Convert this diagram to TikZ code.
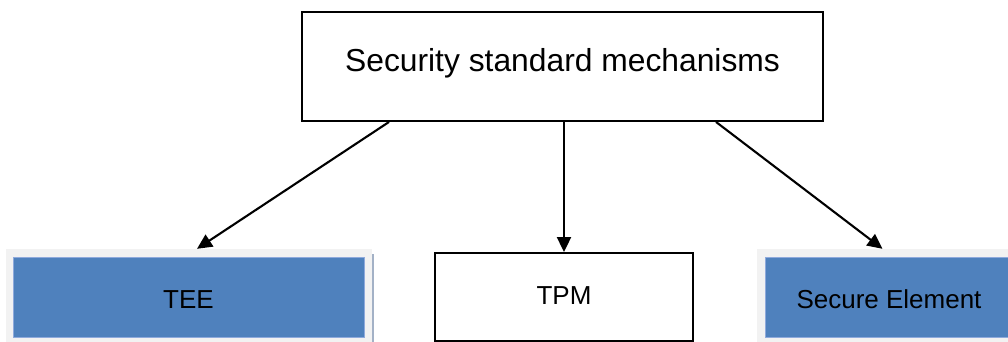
\documentclass[tikz,border=0pt]{standalone}
\usepackage{fontspec}
\setmainfont{Liberation Sans}
\usetikzlibrary{arrows.meta}
\definecolor{boxblue}{HTML}{4F81BD}
\definecolor{edgeblue}{HTML}{8FAADC}
\definecolor{framegrey}{HTML}{F2F2F2}
\definecolor{shadowline}{HTML}{A3B1C6}
\tikzset{
  plainbox/.style={draw=black, line width=1.9pt, fill=white, inner sep=0pt},
  bluebox/.style={draw=edgeblue, line width=0.6pt, fill=boxblue, inner sep=0pt},
  greyframe/.style={fill=framegrey, draw=none, inner sep=0pt},
  link/.style={draw=black, line width=2.1pt, -{Triangle[length=15pt,width=14pt]}},
  bigtext/.style={font=\fontsize{31.8}{38}\selectfont},
  smalltext/.style={font=\fontsize{26}{31}\selectfont},
}
\begin{document}
\begin{tikzpicture}[x=1pt,y=-1pt]
\useasboundingbox (0,0) rectangle (1008,342);

% top box
\node[plainbox, bigtext, minimum width=521pt, minimum height=109pt,
      text height=22.6pt, text depth=11.6pt] (top) at (562.5,66.5)
      {Security standard mechanisms};

% TEE with its grey frame
\node[greyframe, minimum width=366pt, minimum height=95pt] (teeframe) at (189,296.5) {};
\node[bluebox, smalltext, minimum width=351pt, minimum height=80pt,
      text height=22pt, text depth=0pt] (tee) at (188.5,297) {TEE};
\draw[shadowline, line width=2pt] (373,254) -- (373,342);

% TPM
\node[plainbox, smalltext, minimum width=258pt, minimum height=88pt,
      text height=14pt, text depth=0pt] (tpm) at (564,297) {TPM};

% Secure Element with its grey frame
\node[greyframe, minimum width=251pt, minimum height=95pt] (seframe) at (882.5,296.5) {};
\node[bluebox, smalltext, minimum width=248pt, minimum height=80pt,
      text height=22pt, text depth=0pt] (se) at (889,297) {Secure Element};

% connectors
\draw[link] ([xshift=-173.5pt]top.south) -- ([xshift=8pt]teeframe.north);
\draw[link] (tpm.north |- top.south) -- (tpm.north);
\draw[link] ([xshift=153.5pt]top.south) -- (seframe.north);
\end{tikzpicture}
\end{document}
